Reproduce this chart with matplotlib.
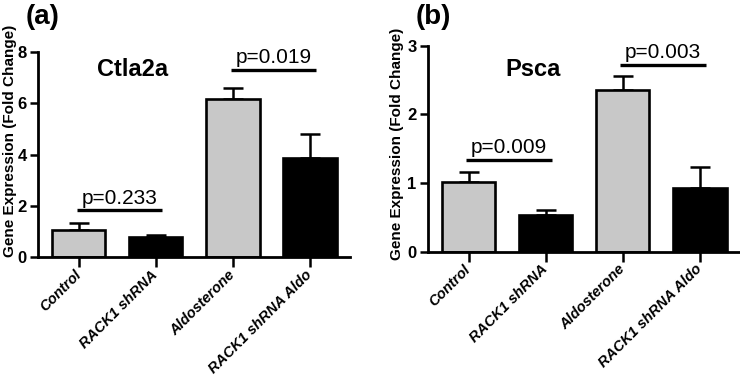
import matplotlib
matplotlib.use("Agg")
import matplotlib.pyplot as plt

plt.rcParams["font.family"] = ["Liberation Sans", "DejaVu Sans"]

GROUPS = ["Control", "RACK1 shRNA", "Aldosterone", "RACK1 shRNA Aldo"]
COLORS = ["#c8c8c8", "black", "#c8c8c8", "black"]

# panel (a): Ctla2a
ctla2a_mean = [1.05, 0.78, 6.17, 3.87]
ctla2a_err = [0.28, 0.08, 0.43, 0.93]
ctla2a_p = ["p=0.233", "p=0.019"]
ctla2a_p_y = [1.83, 7.3]

# panel (b): Psca
psca_mean = [1.01, 0.54, 2.35, 0.93]
psca_err = [0.15, 0.07, 0.21, 0.31]
psca_p = ["p=0.009", "p=0.003"]
psca_p_y = [1.34, 2.72]

fig = plt.figure(figsize=(7.4, 3.77), dpi=100)
ax_a = fig.add_axes([0.0514, 0.3175, 0.4216, 0.5446])
ax_b = fig.add_axes([0.578, 0.3324, 0.422, 0.5464])


def draw_panel(ax, means, errs, pvals, p_y, ymax, yticks, title, title_xy, letter, letter_x, ylabel_xy):
    x = list(range(len(GROUPS)))
    ax.bar(x, means, width=0.69, color=COLORS, edgecolor="black", linewidth=1.9, zorder=2)
    ax.errorbar(x, means, yerr=[[0] * len(errs), errs], fmt="none", ecolor="black",
                elinewidth=1.8, capsize=7.5, capthick=1.8, zorder=1)
    ax.set_xlim(-0.53, 3.52)
    ax.set_ylim(0, ymax)
    ax.set_yticks(yticks)
    ax.set_yticklabels([str(t) for t in yticks], fontweight="bold", fontsize=12)
    ax.set_xticks(x)
    ax.set_xticklabels(GROUPS, rotation=45, ha="right", va="center", rotation_mode="anchor",
                       fontstyle="italic", fontweight="bold", fontsize=10.5)
    ax.tick_params(axis="both", direction="out", width=1.8, length=6, pad=2)
    ax.tick_params(axis="x", length=7, pad=4)
    for s in ["top", "right"]:
        ax.spines[s].set_visible(False)
    for s in ["left", "bottom"]:
        ax.spines[s].set_linewidth(2.0)
    ax.patch.set_alpha(0)

    for i, (p, yy) in enumerate(zip(pvals, p_y)):
        x0, x1 = 2 * i - 0.03, 2 * i + 1.08
        ax.plot([x0, x1], [yy, yy], color="black", lw=2.4, solid_capstyle="butt", clip_on=False)
        ax.annotate(p, xy=((x0 + x1) / 2, yy), xytext=(0, 2), textcoords="offset points",
                    ha="center", va="bottom", fontsize=15)

    fig.text(title_xy[0], title_xy[1], title, ha="center", va="center",
             fontsize=17, fontweight="bold")
    fig.text(letter_x, 0.955, letter, ha="left", va="center", fontsize=20, fontweight="bold")
    fig.text(ylabel_xy[0], ylabel_xy[1], "Gene Expression (Fold Change)", rotation=90,
             ha="center", va="center", fontsize=11, fontweight="bold")


draw_panel(ax_a, ctla2a_mean, ctla2a_err, ctla2a_p, ctla2a_p_y, 8, [0, 2, 4, 6, 8],
           "Ctla2a", (133 / 740, 1 - 70 / 377), "(a)", 0.034, (0.014, 0.626))
draw_panel(ax_b, psca_mean, psca_err, psca_p, psca_p_y, 3, [0, 1, 2, 3],
           "Psca", (533 / 740, 1 - 70 / 377), "(b)", 0.561, (0.536, 0.618))

fig.savefig("out.png", dpi=100)
